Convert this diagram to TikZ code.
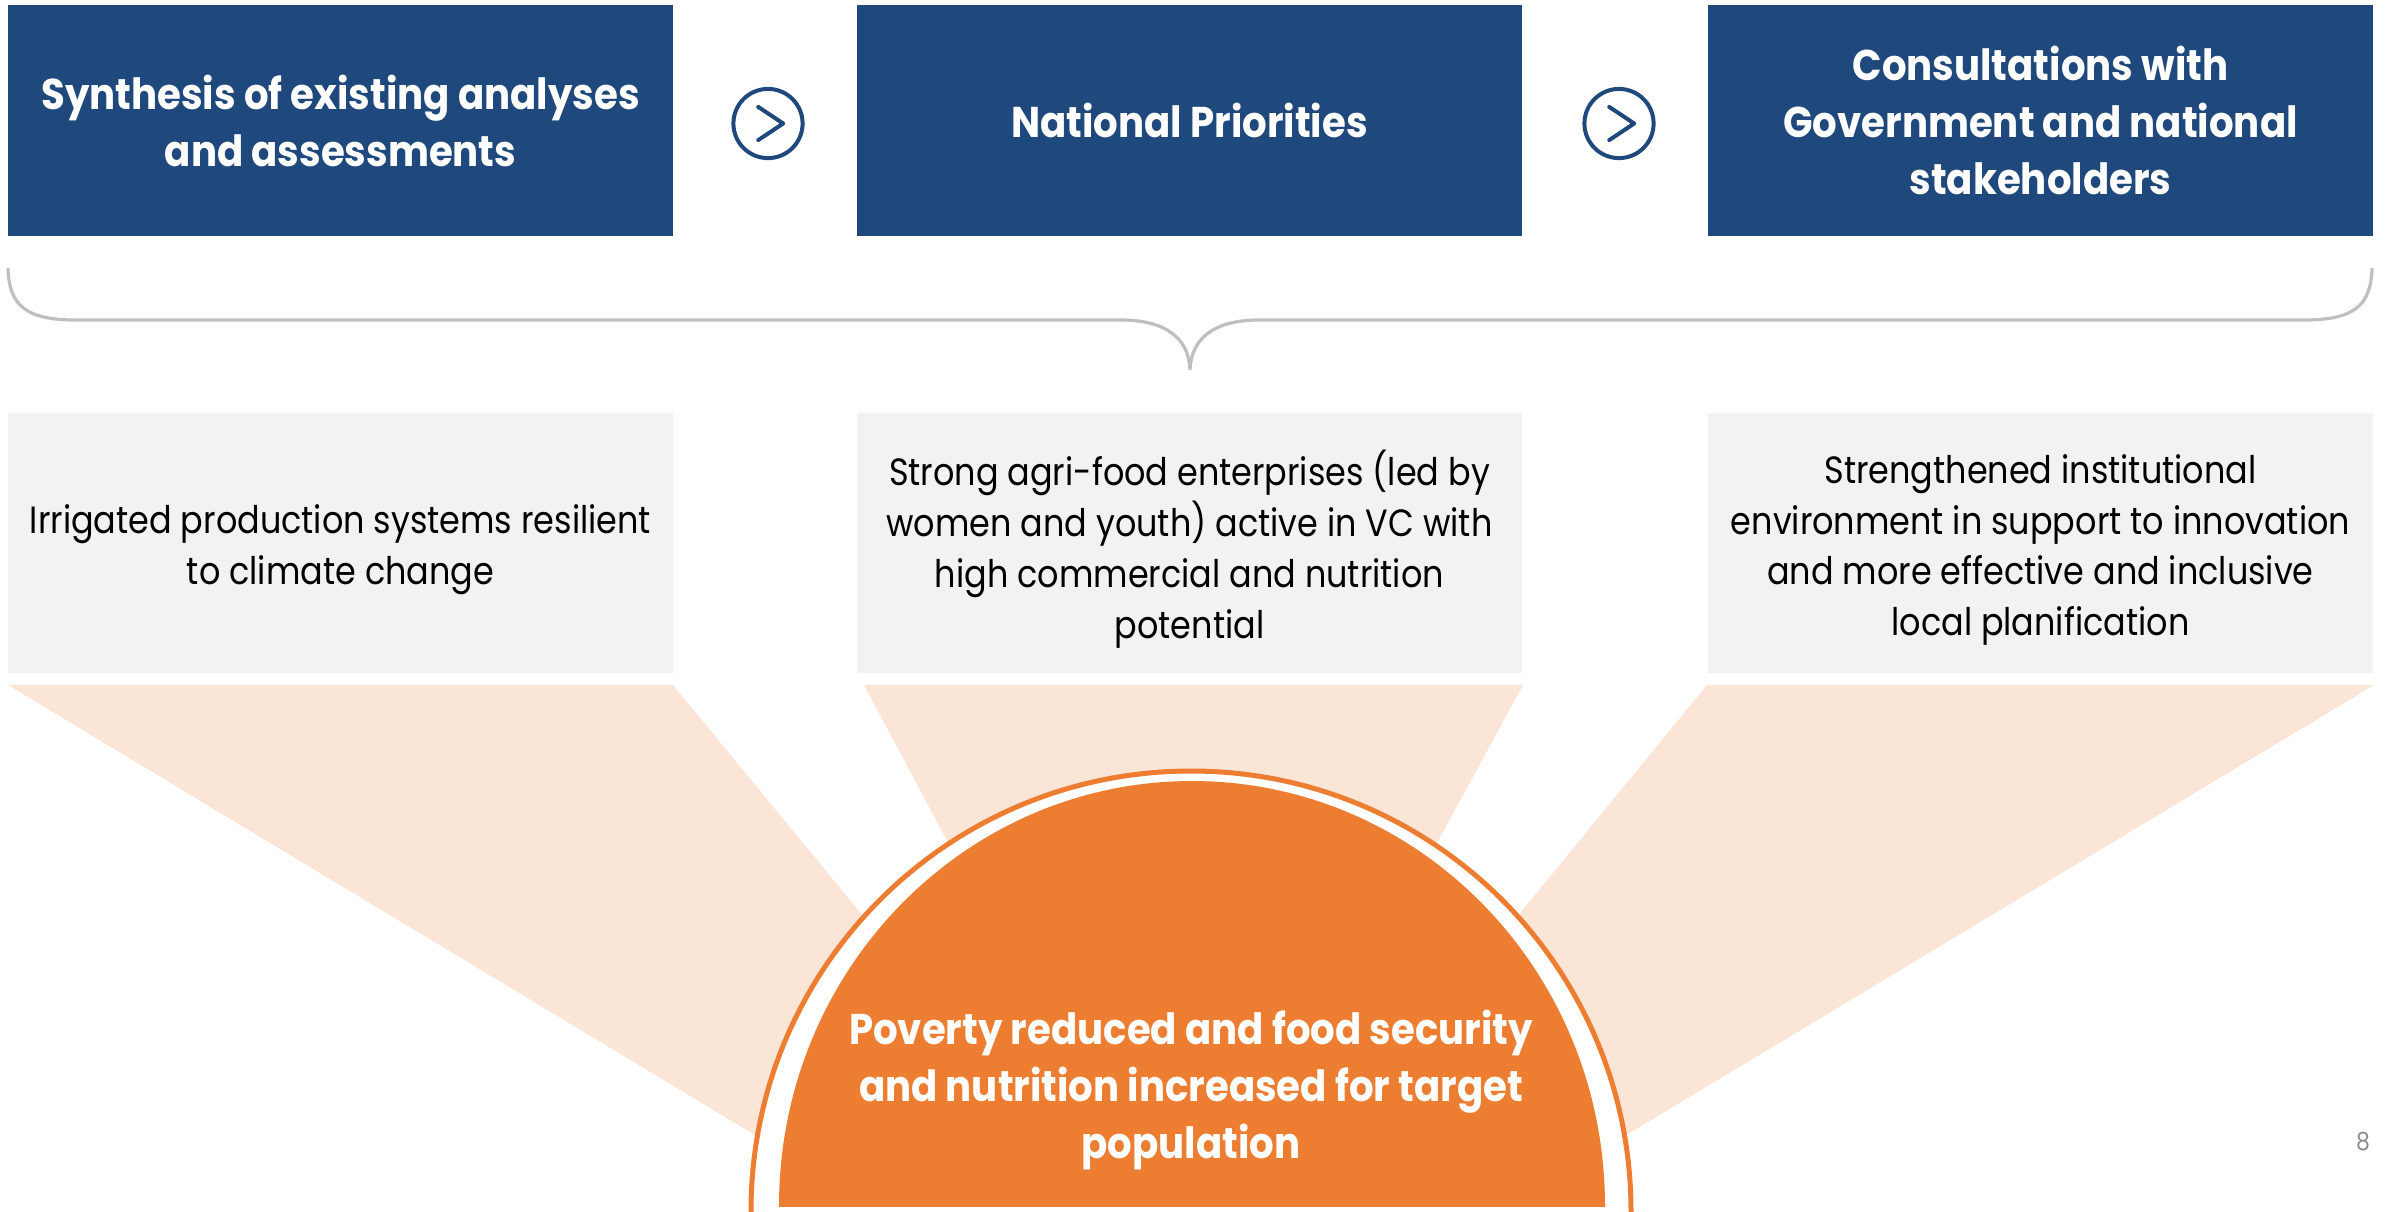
\documentclass[tikz,border=0pt]{standalone}
\usepackage{fontspec}
\setmainfont{Poppins}[FakeStretch=0.88, BoldFeatures={FakeStretch=0.9}]
\definecolor{ppblue}{HTML}{1F497D}
\definecolor{ppgrey}{HTML}{F2F2F2}
\definecolor{pptan}{HTML}{FAE5D7}
\definecolor{pporange}{HTML}{ED7D31}
\definecolor{bracegrey}{HTML}{BFBFBF}
\definecolor{numgrey}{HTML}{8C8C8C}
\begin{document}
\begin{tikzpicture}[x=0.5pt,y=-0.5pt,
  bluebox/.style={fill=ppblue, minimum width=332.5pt, minimum height=115.5pt, inner sep=0pt,
    text=white, align=center, font=\bfseries\fontsize{21.5}{28.5}\selectfont},
  greybox/.style={fill=ppgrey, minimum width=332.5pt, minimum height=130pt, inner sep=0pt},
  greytext/.style={text=black, align=center, inner sep=0pt, font=\fontsize{19}{25.4}\selectfont},
  nextmark/.style={circle, draw=ppblue, line width=2pt, minimum size=34.6pt, inner sep=0pt},
  chevron/.style={draw=ppblue, line width=2pt, line cap=round, line join=round},
  ray/.style={fill=pptan},
  brace/.style={draw=bracegrey, line width=1.6pt}]
\useasboundingbox (0,0) rectangle (2392,1211);

% top row
\node[bluebox] (b1) at (340.5,120.5) {Synthesis of existing analyses\\and assessments};
\node[bluebox] (b2) at (1189.5,120.5) {National Priorities};
\node[bluebox] (b3) at (2040.5,120.5) {Consultations with\\Government and national\\stakeholders};

\node[nextmark] (n1) at (768,123.5) {};
\node[nextmark] (n2) at (1619,123.5) {};
\foreach \n in {n1,n2}{
  \draw[chevron] ([shift={(-4.9pt,8.3pt)}]\n.center) -- ([shift={(7.6pt,0pt)}]\n.center) -- ([shift={(-4.9pt,-8.3pt)}]\n.center);
}

% brace
\coordinate (bl) at (8,268);
\coordinate (br) at (2372,268);
\coordinate (bt) at (1190,370);
\draw[brace] (bl) .. controls (9,305) and (25,320) .. (76,320) -- (1121,320)
  .. controls (1168,320) and (1189,340) .. (bt)
  .. controls (1191,340) and (1212,320) .. (1259,320) -- (2304,320)
  .. controls (2355,320) and (2371,305) .. (br);

% middle row
\node[greybox] (g1) at (340.5,543) {};
\node[greybox] (g2) at (1189.5,543) {};
\node[greybox] (g3) at (2040.5,543) {};
\node[greytext] (g1t) at ([yshift=-3.5pt]g1.center) {Irrigated production systems resilient\\to climate change};
\node[greytext] (g2t) at ([yshift=-3pt]g2.center) {Strong agri-food enterprises (led by\\women and youth) active in VC with\\high commercial and nutrition\\potential};
\node[greytext] (g3t) at ([yshift=-3.5pt]g3.center) {Strengthened institutional\\environment in support to innovation\\and more effective and inclusive\\local planification};

% rays
\fill[ray] (8,685) -- (673,685) -- (919,984) -- (881,1211) -- cycle;
\fill[ray] (864,685) -- (1523,685) -- (1351,1001) -- (1040,1015) -- cycle;
\fill[ray] (2374,685) -- (1707,685) -- (1462,984) -- (1500,1211) -- cycle;

% goal half-disc
\begin{scope}
  \clip (0,0) rectangle (2392,1211);
  \draw[draw=pporange, fill=white, line width=2.5pt] (1191,1211) circle (220pt);
\end{scope}
\begin{scope}
  \clip (0,0) rectangle (2392,1206);
  \fill[pporange] (1192,1206) ellipse [x radius=206.5pt, y radius=212.5pt];
\end{scope}
\node[text=white, align=center, font=\bfseries\fontsize{21.5}{28.5}\selectfont] (goal) at (1191,1090)
  {Poverty reduced and food security\\and nutrition increased for target\\population};

\node[text=numgrey, font=\fontsize{12.5}{14}\selectfont] (pg) at (2363,1142) {8};
\end{tikzpicture}
\end{document}
